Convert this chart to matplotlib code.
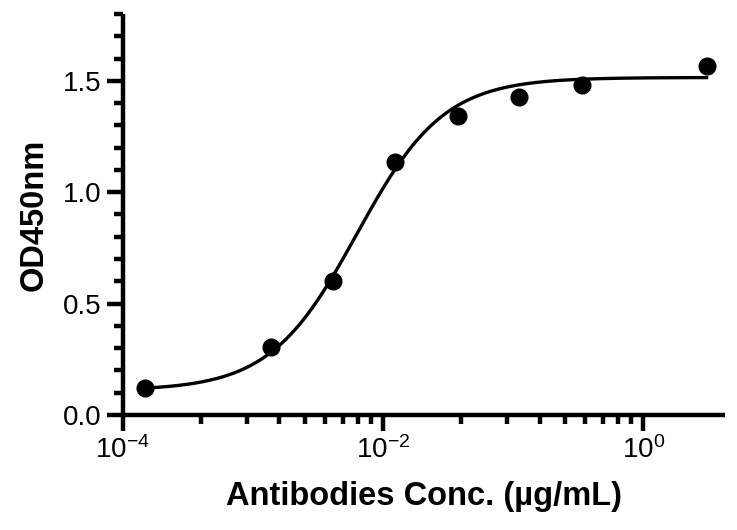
import numpy as np
import matplotlib
matplotlib.use("Agg")
import matplotlib.pyplot as plt
from matplotlib.ticker import FixedLocator, FixedFormatter, NullFormatter

# ---------- data ----------
conc = [1.49e-4, 1.37e-3, 4.12e-3, 1.245e-2, 3.78e-2, 0.112, 0.34, 3.07]   # µg/mL
od450 = [0.122, 0.305, 0.601, 1.136, 1.343, 1.428, 1.482, 1.566]

# 4PL fit parameters (estimated from the drawn curve)
fit_bottom = 0.11
fit_top = 1.515
fit_ec50 = 6.3e-3
fit_hill = 1.3

major_x = [1e-4, 1e-2, 1e0]
major_x_labels = ["$10^{-4}$", "$10^{-2}$", "$10^{0}$"]
y_major = [0.0, 0.5, 1.0, 1.5]
y_labels = ["0.0", "0.5", "1.0", "1.5"]

plt.rcParams["font.family"] = ["Liberation Sans", "DejaVu Sans"]
plt.rcParams["mathtext.fontset"] = "custom"
plt.rcParams["mathtext.rm"] = "Liberation Sans"
plt.rcParams["mathtext.it"] = "Liberation Sans"

fig = plt.figure(figsize=(7.37, 5.30), dpi=100)
ax = fig.add_axes([0.1665, 0.217, 0.8172, 0.7566])

# fitted curve
xs = np.logspace(np.log10(conc[0]), np.log10(conc[-1]), 400)
ys = fit_bottom + (fit_top - fit_bottom) / (1 + (fit_ec50 / xs) ** fit_hill)
ax.plot(xs, ys, color="black", lw=2.4, zorder=2)

# data points
ax.plot(conc, od450, "o", color="black", ms=12, zorder=3, clip_on=False)

ax.set_xscale("log")
ax.set_xlim(1e-4, 4.25)
ax.set_ylim(0, 1.8)

# GraphPad style: minor ticks spaced like k^2 between two-decade majors
minor_x = [b * k ** 2 for b in (1e-4, 1e-2) for k in range(2, 10)]
ax.xaxis.set_major_locator(FixedLocator(major_x))
ax.xaxis.set_major_formatter(FixedFormatter(major_x_labels))
ax.xaxis.set_minor_locator(FixedLocator(minor_x))
ax.xaxis.set_minor_formatter(NullFormatter())

ax.yaxis.set_major_locator(FixedLocator(y_major))
ax.yaxis.set_major_formatter(FixedFormatter(y_labels))
ax.yaxis.set_minor_locator(FixedLocator(np.arange(0.1, 1.81, 0.1)))

for side in ("top", "right"):
    ax.spines[side].set_visible(False)
for side in ("left", "bottom"):
    ax.spines[side].set_linewidth(3.2)
    ax.spines[side].set_capstyle("butt")

ax.tick_params(which="major", length=11.5, width=3.2, labelsize=20, pad=4, color="black")
ax.tick_params(which="minor", length=6.5, width=3.2, color="black")

ax.set_ylabel("OD450nm", fontsize=23.5, fontweight="bold", labelpad=9)
ax.set_xlabel("Antibodies Conc. (µg/mL)", fontsize=23.5, fontweight="bold", labelpad=12)

fig.savefig("out.png", dpi=100)
